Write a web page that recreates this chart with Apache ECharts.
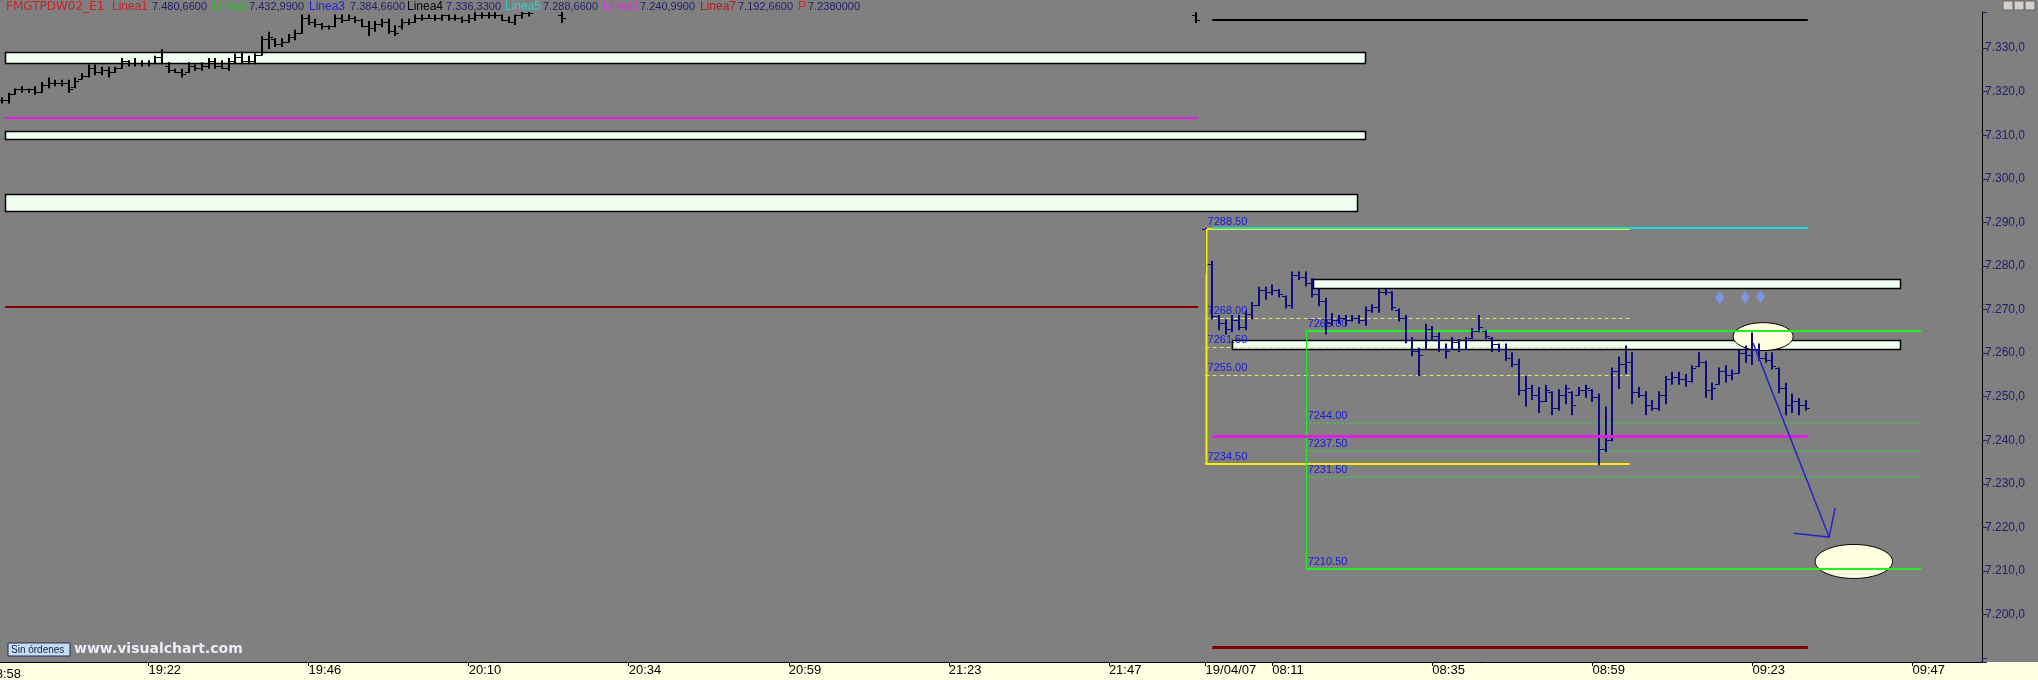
<!DOCTYPE html>
<html><head><meta charset="utf-8">
<script src="https://cdn.jsdelivr.net/npm/echarts@6/dist/echarts.min.js"></script>
<style>html,body{margin:0;padding:0;background:#808080;}#c{width:2038px;height:680px;}</style>
</head><body><div id="c"></div>
<script>
// ---------- DATA ----------
const skippedMinutes = ['20:47'];
const day1Range = ['18:58', '22:00'];
const day2Range = ['08:01', '10:00'];
const sessionGap = 0.5;
const dateLabel = '19/04/07';
const xTickTimes1 = ['18:58','19:22','19:46','20:10','20:34','20:59','21:23','21:47'];
const xTickTimes2 = ['08:01','08:11','08:35','08:59','09:23','09:47'];

// [time, open, high, low, close]
const day1Bars = [
['19:00',7318.0,7318.5,7317.5,7318.0],['19:01',7318.0,7319.5,7317.5,7319.5],['19:02',7319.5,7320.5,7319.5,7320.5],
['19:03',7320.5,7321.0,7320.0,7320.5],['19:04',7320.5,7320.5,7320.0,7320.5],['19:05',7320.5,7321.0,7319.5,7320.0],
['19:06',7320.0,7322.0,7320.0,7321.5],['19:07',7321.5,7323.0,7321.0,7322.0],['19:08',7322.0,7322.5,7321.5,7322.0],
['19:09',7322.0,7322.5,7321.5,7322.0],['19:10',7322.0,7322.5,7320.0,7320.5],['19:11',7321.0,7323.0,7321.0,7322.5],
['19:12',7323.0,7324.0,7323.0,7323.5],['19:13',7323.5,7326.0,7323.5,7325.5],['19:14',7325.5,7326.0,7324.0,7324.5],
['19:15',7324.5,7325.5,7324.0,7325.0],['19:16',7325.0,7325.5,7323.5,7324.5],['19:17',7324.5,7325.5,7324.5,7325.5],
['19:18',7325.5,7327.5,7325.5,7327.0],['19:19',7327.0,7327.0,7326.0,7326.5],['19:20',7326.5,7327.5,7326.0,7326.5],
['19:21',7326.5,7327.0,7326.0,7326.5],['19:22',7326.5,7327.0,7326.0,7326.5],['19:23',7326.5,7328.0,7326.5,7328.0],
['19:24',7328.0,7329.5,7326.5,7329.0],['19:25',7326.0,7326.5,7324.5,7325.0],['19:26',7325.0,7325.0,7324.5,7324.5],
['19:27',7324.5,7325.0,7323.5,7324.0],['19:28',7324.5,7326.5,7324.5,7326.0],['19:29',7326.0,7326.0,7325.0,7325.5],
['19:30',7325.5,7326.5,7325.0,7326.0],['19:31',7326.0,7327.5,7325.5,7327.0],['19:32',7327.0,7327.5,7325.5,7326.0],
['19:33',7326.0,7327.0,7325.5,7325.5],['19:34',7325.5,7327.5,7325.0,7327.0],['19:35',7327.0,7328.5,7326.5,7328.0],
['19:36',7328.0,7329.0,7326.5,7327.0],['19:37',7327.0,7328.0,7326.5,7327.0],['19:38',7327.0,7328.5,7326.5,7328.5],
['19:39',7328.5,7332.5,7328.5,7332.0],['19:40',7332.0,7333.5,7330.0,7332.5],['19:41',7332.0,7332.0,7330.5,7331.0],
['19:42',7331.0,7332.0,7330.5,7331.5],['19:43',7331.5,7333.0,7331.5,7332.5],['19:44',7332.5,7334.0,7332.0,7333.5],
['19:45',7333.5,7337.5,7333.5,7337.0],['19:46',7337.0,7337.5,7335.5,7336.0],['19:47',7336.0,7336.5,7335.0,7335.5],
['19:48',7335.5,7335.5,7334.5,7335.0],['19:49',7335.0,7335.0,7334.5,7335.0],['19:50',7335.0,7337.5,7335.0,7337.0],
['19:51',7337.0,7337.5,7336.0,7336.5],['19:52',7336.5,7337.5,7336.5,7337.0],['19:53',7337.0,7337.0,7336.0,7336.5],
['19:54',7336.5,7336.5,7335.0,7335.0],['19:55',7335.0,7336.0,7333.0,7334.5],['19:56',7334.5,7336.0,7334.0,7335.5],
['19:57',7335.5,7336.5,7335.0,7336.0],['19:58',7336.0,7336.5,7333.5,7334.0],['19:59',7334.0,7335.0,7333.0,7333.5],
['20:00',7335.0,7336.5,7334.5,7336.0],['20:01',7336.0,7336.5,7335.5,7336.0],['20:02',7336.0,7337.5,7336.0,7337.0],
['20:03',7337.0,7337.5,7336.5,7337.0],['20:04',7337.0,7337.5,7337.0,7337.0],['20:05',7337.0,7337.5,7336.5,7337.0],
['20:06',7337.0,7337.5,7336.5,7337.5],['20:07',7337.5,7337.5,7336.5,7337.0],['20:08',7337.0,7337.5,7336.5,7337.0],
['20:09',7337.0,7337.0,7336.0,7336.5],['20:10',7336.5,7337.5,7336.0,7337.0],['20:11',7337.0,7338.0,7336.5,7337.5],
['20:12',7337.5,7338.0,7337.0,7337.5],['20:13',7337.5,7338.0,7337.0,7337.5],['20:14',7337.5,7338.0,7337.0,7337.5],
['20:15',7337.5,7337.5,7336.5,7336.5],['20:16',7336.5,7337.0,7336.0,7336.0],['20:17',7336.0,7337.5,7335.5,7337.5],
['20:18',7337.5,7338.5,7337.0,7338.0],['20:19',7338.0,7338.5,7337.5,7338.0],
['20:24',7337.5,7338.5,7336.0,7337.0],['22:00',7337.5,7338.0,7336.0,7336.5]
];

const day2Bars = [
['08:01',7288.5,7288.5,7278.5,7280.5],['08:02',7280.5,7281.0,7268.0,7268.5],['08:03',7268.5,7268.5,7265.5,7267.0],
['08:04',7267.0,7267.5,7264.5,7265.5],['08:05',7265.5,7268.5,7265.0,7267.5],['08:06',7267.5,7268.5,7265.5,7266.0],
['08:07',7266.0,7269.5,7265.5,7269.0],['08:08',7269.0,7271.5,7268.0,7271.0],['08:09',7271.0,7275.0,7271.0,7274.5],
['08:10',7274.5,7275.0,7272.5,7274.0],['08:11',7274.0,7275.5,7273.5,7274.5],['08:12',7274.5,7274.5,7273.0,7273.5],
['08:13',7273.0,7273.0,7270.5,7271.0],['08:14',7271.0,7278.5,7270.5,7278.0],['08:15',7278.0,7278.5,7277.0,7277.5],
['08:16',7277.5,7278.5,7275.5,7276.0],['08:17',7276.0,7277.0,7273.0,7273.5],['08:18',7273.5,7274.5,7271.0,7272.0],
['08:19',7272.0,7272.5,7264.5,7267.0],['08:20',7267.0,7269.0,7266.5,7267.5],['08:21',7267.5,7268.5,7267.0,7268.0],
['08:22',7268.0,7268.5,7266.5,7267.5],['08:23',7267.5,7268.5,7267.5,7268.0],['08:24',7268.0,7268.5,7267.0,7267.5],
['08:25',7267.5,7270.5,7266.5,7270.0],['08:26',7270.0,7271.0,7269.5,7270.5],['08:27',7270.5,7274.5,7269.5,7274.0],
['08:28',7274.0,7274.5,7273.5,7274.0],['08:29',7274.0,7274.0,7270.0,7270.5],['08:30',7270.0,7270.0,7267.5,7268.0],
['08:31',7268.0,7268.5,7262.5,7263.0],['08:32',7263.0,7263.5,7259.5,7260.5],['08:33',7260.5,7261.0,7255.0,7259.5],
['08:34',7261.0,7266.5,7261.0,7265.5],['08:35',7265.5,7266.0,7263.0,7264.0],['08:36',7264.0,7264.5,7260.5,7261.0],
['08:37',7261.0,7262.0,7259.0,7260.5],['08:38',7261.0,7263.5,7261.0,7262.5],['08:39',7262.5,7263.0,7260.5,7261.0],
['08:40',7261.0,7263.5,7261.0,7263.0],['08:41',7263.5,7265.5,7263.5,7265.0],['08:42',7265.0,7268.5,7265.0,7266.0],
['08:43',7265.0,7265.0,7263.5,7264.0],['08:44',7263.5,7263.5,7260.5,7262.0],['08:45',7262.0,7262.0,7260.5,7261.0],
['08:46',7261.0,7262.0,7258.5,7259.0],['08:47',7259.0,7260.0,7257.0,7257.5],['08:48',7257.5,7258.5,7250.5,7251.5],
['08:49',7251.5,7254.5,7248.0,7252.0],['08:50',7252.0,7252.5,7249.5,7250.5],['08:51',7250.5,7252.0,7246.5,7249.0],
['08:52',7249.0,7252.5,7249.0,7251.5],['08:53',7251.0,7251.0,7246.0,7247.5],['08:54',7247.5,7251.5,7247.0,7250.5],
['08:55',7250.5,7252.5,7248.5,7252.0],['08:56',7251.0,7251.0,7246.0,7248.0],['08:57',7250.5,7252.0,7250.5,7251.5],
['08:58',7251.5,7252.5,7250.0,7252.0],['08:59',7251.5,7251.5,7249.0,7250.0],['09:00',7250.0,7250.5,7234.5,7238.0],
['09:01',7238.0,7247.5,7237.5,7240.0],['09:02',7240.0,7256.5,7240.0,7256.0],['09:03',7256.0,7259.0,7252.0,7257.5],
['09:04',7257.5,7261.5,7255.5,7258.0],['09:05',7258.0,7260.0,7248.5,7251.0],['09:06',7251.0,7252.0,7250.0,7250.5],
['09:07',7250.5,7251.0,7246.0,7248.0],['09:08',7248.0,7249.0,7247.0,7247.5],['09:09',7247.5,7251.0,7247.0,7250.5],
['09:10',7250.5,7254.5,7248.5,7254.0],['09:11',7254.0,7255.5,7253.0,7254.5],['09:12',7254.5,7255.5,7253.0,7254.0],
['09:13',7254.0,7255.0,7252.5,7253.5],['09:14',7253.5,7257.0,7253.5,7256.5],['09:15',7257.0,7260.0,7257.0,7258.0],
['09:16',7258.0,7258.0,7250.0,7251.5],['09:17',7251.5,7253.0,7249.5,7252.0],['09:18',7253.0,7256.5,7253.0,7256.0],
['09:19',7256.0,7257.0,7253.5,7255.0],['09:20',7255.0,7256.0,7254.0,7255.5],['09:21',7255.5,7260.5,7255.5,7260.0],
['09:22',7260.0,7261.5,7258.0,7259.5],['09:23',7259.5,7264.5,7257.5,7261.0],['09:24',7261.0,7262.0,7258.5,7259.0],
['09:25',7259.0,7260.0,7258.0,7258.5],['09:26',7258.5,7260.0,7256.5,7257.0],['09:27',7256.5,7256.5,7251.0,7252.0],
['09:28',7252.0,7253.0,7246.0,7248.0],['09:29',7248.0,7250.5,7246.5,7249.0],['09:30',7249.0,7249.5,7246.0,7248.0],
['09:31',7248.0,7249.0,7247.0,7247.5]
];

// drawn objects, in data coordinates [x from, x to, price low, price high]
const zones = [
  [2.5, 206.5, 7326.5, 7329.0],
  [2.5, 206.5, 7309.2, 7311.0],
  [2.5, 205.3, 7292.6, 7296.5],
  [198.6, 286.6, 7275.0, 7277.0],
  [186.5, 286.6, 7261.0, 7263.0]
];
const prevDayLevels = [7314.0, 7270.6];           // magenta, dark red (previous session)
const prevDaySpan = [2.5, 181.4];
const pivotLevels = [7336.33, 7288.66, 7240.99, 7192.66]; // Linea4..Linea7
const pivotSpan = [183.5, 272.8];
const yellowFib = [7288.5, 7268.0, 7261.5, 7255.0, 7234.5];
const yellowSpan = [182.5, 246.1];
const greenFib = [7265.0, 7244.0, 7237.5, 7231.5, 7210.5];
const greenSpan = [197.5, 289.8];
const ellipses = [[266.1, 7263.8, 4.5, 3.2], [279.7, 7212.2, 5.8, 3.9]];
const arrowLine = [[264.6, 7262.3], [276.0, 7217.8]];
const arrowHead = [[270.7, 7218.7], [276.0, 7217.8], [276.9, 7224.5]];
const signalMarks = [[259.6, 7272.7], [263.4, 7272.8], [265.7, 7273.0]];
const legendItems = [
  ['FMGTPDW02_E1', '#cc2222'], ['Linea1', '#cc2222'], ['7.480,6600', '#20206a'],
  ['Linea2', '#33bb33'], ['7.432,9900', '#20206a'],
  ['Linea3', '#2222dd'], ['7.384,6600', '#20206a'],
  ['Linea4', '#000000'], ['7.336,3300', '#20206a'],
  ['Linea5', '#33cccc'], ['7.288,6600', '#20206a'],
  ['Linea6', '#dd33dd'], ['7.240,9900', '#20206a'],
  ['Linea7', '#aa2222'], ['7.192,6600', '#20206a'],
  ['P', '#dd2222'], ['7.2380000', '#20206a']
];

// ---------- helpers ----------
function minuteList(a, b, skip) {
  const out = []; let [h, m] = a.split(':').map(Number); const [h2, m2] = b.split(':').map(Number);
  while (h * 60 + m <= h2 * 60 + m2) {
    const t = String(h).padStart(2, '0') + ':' + String(m).padStart(2, '0');
    if (!skip.includes(t)) out.push(t);
    m++; if (m === 60) { m = 0; h++; }
  }
  return out;
}
const day1Times = minuteList(day1Range[0], day1Range[1], skippedMinutes);
const day2Times = minuteList(day2Range[0], day2Range[1], []);
const pos1 = t => day1Times.indexOf(t);
const pos2 = t => day1Times.length + sessionGap + day2Times.indexOf(t);

const tickPos = xTickTimes1.map(pos1).concat(xTickTimes2.map(pos2));
const tickText = xTickTimes1.concat(xTickTimes2.map((t, i) => i === 0 ? dateLabel : t));
const d1 = day1Bars.map(b => [pos1(b[0]), b[1], b[2], b[3], b[4]]);
const d2 = day2Bars.map(b => [pos2(b[0]), b[1], b[2], b[3], b[4]]);
const lastClose = day2Bars[day2Bars.length - 1][4];

function fmtPrice(v) {
  const s = v.toFixed(1); const [i, d] = s.split('.');
  return i.slice(0, i.length - 3) + '.' + i.slice(-3) + ',' + d;
}

function ohlcSeries(data, color) {
  return {
    type: 'custom', data, clip: true, z: 5,
    encode: { x: 0, y: [1, 2, 3, 4] },
    renderItem: (p, api) => {
      const x = api.value(0);
      const o = api.coord([x, api.value(1)]), h = api.coord([x, api.value(2)]);
      const l = api.coord([x, api.value(3)]), c = api.coord([x, api.value(4)]);
      const cx = Math.round(o[0]);
      const oy = Math.round(o[1]) + 0.5, cy = Math.round(c[1]) + 0.5;
      return { type: 'group', children: [
        { type: 'line', shape: { x1: cx, y1: h[1] - 1, x2: cx, y2: l[1] + 1 }, style: { stroke: color, lineWidth: 2 } },
        { type: 'line', shape: { x1: cx - 4, y1: oy, x2: cx, y2: oy }, style: { stroke: color, lineWidth: 1 } },
        { type: 'line', shape: { x1: cx, y1: cy, x2: cx + 4, y2: cy }, style: { stroke: color, lineWidth: 1 } }
      ] };
    }
  };
}

function hlineSeries(levels, span, color, width, dash, withLabel, z) {
  return {
    type: 'custom', clip: true, z: z || 6, silent: true,
    data: levels.map(v => [span[0], span[1], v]),
    encode: { x: [0, 1], y: 2 },
    renderItem: (p, api) => {
      const a = api.coord([api.value(0), api.value(2)]);
      const b = api.coord([api.value(1), api.value(2)]);
      const y = Math.round(a[1]) + (width % 2 ? 0.5 : 0);
      const ch = [{ type: 'line', shape: { x1: a[0], y1: y, x2: b[0], y2: y },
        style: { stroke: color, lineWidth: width, lineDash: dash } }];
      if (withLabel) ch.push({ type: 'text', x: a[0] + 2, y: y - 2,
        style: { text: api.value(2).toFixed(2), fill: '#1a1ad8', font: '11px "Liberation Sans", Arial', textVerticalAlign: 'bottom' } });
      return { type: 'group', children: ch };
    }
  };
}

function vlineSeries(x, lo, hi, color, width) {
  return {
    type: 'custom', clip: true, z: 6, silent: true,
    data: [[x, lo, hi]], encode: { x: 0, y: [1, 2] },
    renderItem: (p, api) => {
      const a = api.coord([api.value(0), api.value(1)]), b = api.coord([api.value(0), api.value(2)]);
      const xx = Math.round(a[0]) + 0.5;
      return { type: 'line', shape: { x1: xx, y1: a[1], x2: xx, y2: b[1] }, style: { stroke: color, lineWidth: width } };
    }
  };
}

const Y_MIN = 7189.13, Y_MAX = 7338.28;
const X_MIN = 1.724, X_MAX = 298.92;
const legendX = [6, 112, 152, 213, 249, 309, 350, 407, 446, 505, 543, 603, 640, 700, 738, 798, 808];

const chart = echarts.init(document.getElementById('c'), null, { renderer: 'canvas' });
chart.setOption({
  backgroundColor: '#808080',
  animation: false,
  grid: { left: 0, right: 56, top: 12, bottom: 18 },
  xAxis: {
    type: 'value', min: X_MIN, max: X_MAX,
    axisLine: { show: true, onZero: false, lineStyle: { color: '#000', width: 1 } },
    axisTick: { show: true, customValues: tickPos, length: 4, lineStyle: { color: '#000' } },
    axisLabel: {
      customValues: tickPos, align: 'left', margin: 2, color: '#000', fontSize: 13,
      fontFamily: 'Liberation Sans, Arial',
      formatter: v => { let best = 0; tickPos.forEach((p, i) => { if (Math.abs(p - v) < Math.abs(tickPos[best] - v)) best = i; }); return tickText[best]; }
    },
    splitLine: { show: false }
  },
  yAxis: {
    type: 'value', position: 'right', min: Y_MIN, max: Y_MAX, minInterval: 10, maxInterval: 10,
    axisLine: { show: true, onZero: false, lineStyle: { color: '#000', width: 1 } },
    axisTick: { show: true, length: 5, lineStyle: { color: '#20206a' } },
    axisLabel: {
      color: '#20206a', fontSize: 12, fontFamily: 'Liberation Sans, Arial', margin: 3,
      formatter: v => (v >= 7195 && v <= 7335 && Math.abs(v % 10) < 0.01) ? fmtPrice(v) : ''
    },
    splitLine: { show: false }
  },
  graphic: [
    { type: 'rect', z: -100, shape: { x: 0, y: 662, width: 2038, height: 18 }, style: { fill: '#ffffe1' } },
    ...legendItems.map((it, i) => ({ type: 'text', z: 100, x: legendX[i], y: 7,
      style: { text: it[0], fill: it[1],
        font: i === 0 ? '12px "DejaVu Sans", Verdana' : (i % 2 === 0 || i === 16 ? '11px "Liberation Sans", Arial' : '12px "Liberation Sans", Arial'),
        textVerticalAlign: 'middle' } })),
    { type: 'rect', z: 100, shape: { x: 2003, y: 1, width: 10, height: 9 }, style: { fill: '#d4d0c8', stroke: '#666' } },
    { type: 'rect', z: 100, shape: { x: 2014, y: 1, width: 10, height: 9 }, style: { fill: '#d4d0c8', stroke: '#666' } },
    { type: 'rect', z: 100, shape: { x: 2025, y: 1, width: 10, height: 9 }, style: { fill: '#d4d0c8', stroke: '#666' } },
    { type: 'rect', z: 100, shape: { x: 8, y: 643, width: 62, height: 13 }, style: { fill: '#c8dcf0', stroke: '#203060', lineWidth: 1 } },
    { type: 'text', z: 101, x: 11, y: 650, style: { text: 'Sin órdenes', fill: '#102050', font: '10px "Liberation Sans", Arial', textVerticalAlign: 'middle' } },
    { type: 'text', z: 101, x: 74, y: 649, style: { text: 'www.visualchart.com', fill: '#ececf8', font: 'bold 14px "DejaVu Sans", Verdana', textVerticalAlign: 'middle' } }
  ],
  series: [
    { // zones
      type: 'custom', data: zones, clip: true, z: 2, silent: true,
      encode: { x: [0, 1], y: [2, 3] },
      renderItem: (p, api) => {
        const a = api.coord([api.value(0), api.value(3)]), b = api.coord([api.value(1), api.value(2)]);
        return { type: 'rect', shape: { x: Math.round(a[0]) + 0.5, y: Math.round(a[1]) + 0.5, width: Math.round(b[0] - a[0]), height: Math.round(b[1] - a[1]) },
          style: { fill: '#f0fff2', stroke: '#000', lineWidth: 1.5 } };
      }
    },
    { // ellipses
      type: 'custom', data: ellipses, clip: true, z: 3, silent: true,
      encode: { x: 0, y: 1 },
      renderItem: (p, api) => {
        const c = api.coord([api.value(0), api.value(1)]);
        const s = api.size([api.value(2), api.value(3)]);
        return { type: 'ellipse', shape: { cx: c[0], cy: c[1], rx: s[0], ry: s[1] }, style: { fill: '#ffffe0', stroke: '#000', lineWidth: 1 } };
      }
    },
    hlineSeries(yellowFib.slice(1, 4), yellowSpan, '#e6e070', 1, [4, 3], true, 4),
    hlineSeries([yellowFib[0], yellowFib[4]], yellowSpan, '#f0f000', 2, null, true, 4),
    vlineSeries(yellowSpan[0], yellowFib[4], yellowFib[0], '#f0f000', 2),
    hlineSeries(greenFib.slice(1, 4), greenSpan, '#58b058', 2, [2, 2], true, 4),
    hlineSeries([greenFib[0], greenFib[4]], greenSpan, '#22ee22', 2, null, true, 4),
    vlineSeries(greenSpan[0], greenFib[4], greenFib[0], '#22ee22', 1),
    ohlcSeries(d1, '#000000'),
    ohlcSeries(d2, '#0c0c80'),
    hlineSeries([prevDayLevels[0]], prevDaySpan, '#e020e0', 2, null, false, 7),
    hlineSeries([prevDayLevels[1]], prevDaySpan, '#800000', 2, null, false, 7),
    hlineSeries([pivotLevels[0]], pivotSpan, '#000000', 2, null, false, 7),
    hlineSeries([pivotLevels[1]], pivotSpan, '#20d8d8', 2, null, false, 7),
    hlineSeries([pivotLevels[2]], pivotSpan, '#e020e0', 3, null, false, 7),
    hlineSeries([pivotLevels[3]], pivotSpan, '#800000', 3, null, false, 7),
    { // arrow
      type: 'custom', clip: true, z: 9, silent: true,
      data: [0], renderItem: (p, api) => ({ type: 'group', children: [
        { type: 'polyline', shape: { points: arrowLine.map(pt => api.coord(pt)) }, style: { stroke: '#2424c8', lineWidth: 1.5, fill: null } },
        { type: 'polyline', shape: { points: arrowHead.map(pt => api.coord(pt)) }, style: { stroke: '#2424c8', lineWidth: 1.5, fill: null } }
      ] })
    },
    { // signal marks
      type: 'scatter', data: signalMarks, symbol: 'diamond', symbolSize: [9, 13], z: 8, silent: true,
      itemStyle: { color: '#7b98f0', opacity: 0.9 }
    },
    { // last price box
      type: 'line', data: [], silent: true,
      markLine: { silent: true, symbol: ['none', 'none'], animation: false,
        data: [{ yAxis: lastClose }], lineStyle: { opacity: 0 },
        label: { show: true, position: 'end', distance: 5, formatter: () => fmtPrice(lastClose), color: '#000', fontSize: 12,
          fontFamily: 'Liberation Sans, Arial', backgroundColor: '#ffffc8', borderColor: '#000', borderWidth: 1, padding: [1, 2, 0, 2] } }
    }
  ]
});

// first tick label lies left of the visible area; place it at its axis position
const firstTickPx = chart.convertToPixel({ xAxisIndex: 0 }, tickPos[0]);
const axisY = chart.convertToPixel({ yAxisIndex: 0 }, Y_MIN);
chart.setOption({ graphic: [{ id: 'firstTick', type: 'text', z: 100, x: firstTickPx, y: axisY + 6,
  style: { text: tickText[0], fill: '#000', font: '13px "Liberation Sans", Arial' } }] });
</script></body></html>
